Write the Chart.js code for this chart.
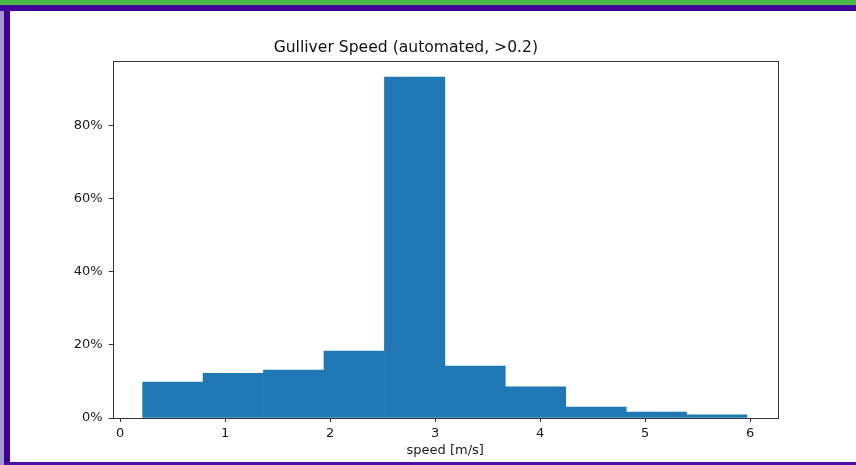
<!DOCTYPE html>
<html>
<head>
<meta charset="utf-8">
<script src="https://cdn.jsdelivr.net/npm/chart.js@4"></script>
<style>
    body { margin: 0; background: #fff; }
    #topbar { position: absolute; left: 0; top: 0; width: 856px; height: 5px; background: #4cb84c; }
    #frame {
        position: absolute; left: 0; top: 5px; width: 856px; height: 460px;
        box-sizing: border-box;
        border-top: 6px solid #3f0096;
        border-left: 10px solid #3f0096;
        border-bottom: 3px solid #4a10a8;
    }
    #shade { position: absolute; left: 0; top: 11px; width: 4px; height: 454px; background: #a497d2; }
    #chart { position: absolute; left: 34px; top: 0; }
</style>
</head>
<body>
<div id="topbar"></div>
<div id="frame"></div>
<div id="shade"></div>
<canvas id="chart" width="822" height="465"></canvas>
<script>
// histogram bins (speed, m/s) and share of samples per bin (%)
const binEdges = [0.213, 0.789, 1.364, 1.940, 2.516, 3.092, 3.667, 4.243, 4.819, 5.394, 5.970];
const shares = [9.8, 12.2, 13.1, 18.3, 93.1, 14.2, 8.5, 3.0, 1.6, 0.9];
const xTicks = [0, 1, 2, 3, 4, 5, 6];
const yTicks = [0, 20, 40, 60, 80];

const bars = shares.map((v, i) => ({ x: (binEdges[i] + binEdges[i + 1]) / 2, y: v }));

// full matplotlib-style box around the plot area
const frameBox = {
    id: 'frameBox',
    afterDatasetsDraw(chart) {
        const a = chart.chartArea;
        const ctx = chart.ctx;
        ctx.save();
        ctx.strokeStyle = '#333';
        ctx.lineWidth = 1;
        ctx.strokeRect(Math.round(a.left) + 0.5, Math.round(a.top) + 0.5,
            Math.round(a.right - a.left), Math.round(a.bottom - a.top));
        ctx.restore();
    }
};

Chart.defaults.font.family = '"DejaVu Sans", sans-serif';
Chart.defaults.color = '#1a1a1a';

new Chart(document.getElementById('chart').getContext('2d'), {
    type: 'bar',
    data: {
        datasets: [{
            data: bars,
            backgroundColor: '#1f77b4',
            borderWidth: 0,
            barPercentage: 1,
            categoryPercentage: 1
        }]
    },
    options: {
        responsive: false,
        animation: false,
        devicePixelRatio: 1,
        layout: { padding: { left: 0, right: 78.3, top: 0, bottom: 0 } },
        plugins: {
            legend: { display: false },
            tooltip: { enabled: false },
            title: {
                display: true,
                text: 'Gulliver Speed (automated, >0.2)',
                color: '#111',
                font: { size: 15.6, weight: 'normal' },
                padding: { top: 38.6, bottom: 3.4 }
            }
        },
        scales: {
            x: {
                type: 'linear',
                min: -0.072,
                max: 6.262,
                offset: false,
                afterBuildTicks: s => { s.ticks = xTicks.map(v => ({ value: v })); },
                afterFit: s => { s.height = 47; },
                border: { display: false },
                grid: { offset: false, drawOnChartArea: false, drawTicks: true, tickLength: 4, color: '#333' },
                ticks: { font: { size: 13 }, padding: 4, maxRotation: 0 },
                title: {
                    display: true,
                    text: 'speed [m/s]',
                    font: { size: 13 },
                    padding: { top: 0, bottom: 6.5 }
                }
            },
            y: {
                min: 0,
                max: 97.6,
                afterBuildTicks: s => { s.ticks = yTicks.map(v => ({ value: v })); },
                afterFit: s => { s.width = 78.7; },
                border: { display: false },
                grid: { drawOnChartArea: false, drawTicks: true, tickLength: 4, color: '#333' },
                ticks: { font: { size: 13 }, padding: 6, callback: v => v + '%' }
            }
        }
    },
    plugins: [frameBox]
});
</script>
</body>
</html>
